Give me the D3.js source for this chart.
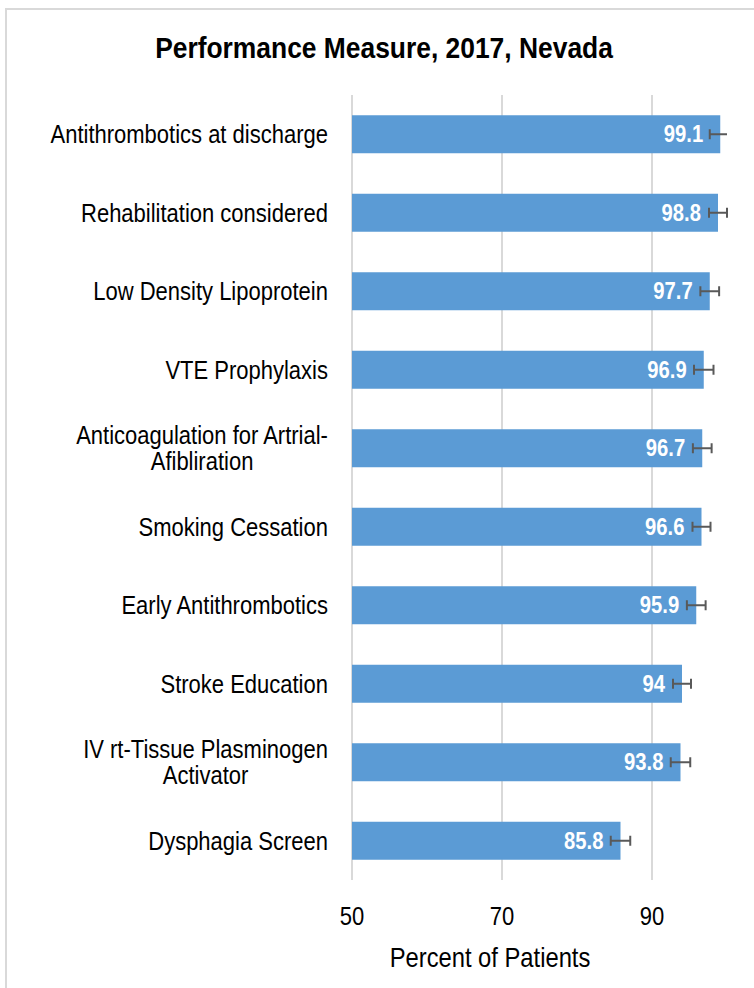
<!DOCTYPE html>
<html>
<head>
<meta charset="utf-8">
<script src="https://cdn.jsdelivr.net/npm/d3@7"></script>
<style>
  body { margin: 0; background: #fff; }
  text { font-family: "Liberation Sans", Arial, sans-serif; }
</style>
</head>
<body>
<svg width="754" height="988"></svg>
<script>
// data
var categories = [
  "Antithrombotics at discharge",
  "Rehabilitation considered",
  "Low Density Lipoprotein",
  "VTE Prophylaxis",
  "Anticoagulation for Artrial-\nAfibliration",
  "Smoking Cessation",
  "Early Antithrombotics",
  "Stroke Education",
  "IV rt-Tissue Plasminogen\nActivator",
  "Dysphagia Screen"
];
var values = [99.1, 98.8, 97.7, 96.9, 96.7, 96.6, 95.9, 94, 93.8, 85.8];
var errors = [1.4, 1.2, 1.25, 1.3, 1.25, 1.2, 1.25, 1.2, 1.3, 1.3];
var tickValues = [50, 70, 90];

var sx = 0.88; // the reference text is a condensed face, fake it
function place(x, y) { return "translate(" + x + "," + y + ") scale(" + sx + ",1)"; }

var svg = d3.select("svg");

// outer frame (runs off the right and bottom edge)
svg.append("rect")
    .attr("x", 6).attr("y", 9)
    .attr("width", 800).attr("height", 1000)
    .attr("fill", "#fff")
    .attr("stroke", "#d9d9d9")
    .attr("stroke-width", 2);

var x = d3.scaleLinear().domain([50, 100]).range([352, 727]);
var y = d3.scaleBand().domain(categories).range([95, 880])
    .paddingInner(0.516).paddingOuter(0.258);

svg.append("text")
    .attr("transform", place(384, 58))
    .attr("text-anchor", "middle")
    .style("font-size", "30px").style("font-weight", "bold")
    .text("Performance Measure, 2017, Nevada");

// gridlines
svg.append("g").selectAll("line")
  .data(tickValues)
  .join("line")
    .attr("x1", d => x(d)).attr("x2", d => x(d))
    .attr("y1", 95).attr("y2", 880)
    .attr("stroke", "#d9d9d9").attr("stroke-width", 2);

// tick labels
svg.append("g").selectAll("text")
  .data(tickValues)
  .join("text")
    .attr("transform", d => place(x(d), 925))
    .attr("text-anchor", "middle")
    .style("font-size", "25px")
    .text(d => d);

svg.append("text")
    .attr("transform", place(490, 967))
    .attr("text-anchor", "middle")
    .style("font-size", "27px")
    .text("Percent of Patients");

// bars
svg.append("g").selectAll("rect")
  .data(categories)
  .join("rect")
    .attr("x", x(50))
    .attr("y", d => y(d))
    .attr("width", (d, i) => x(values[i]) - x(50))
    .attr("height", y.bandwidth())
    .attr("fill", "#5b9bd5");

// category labels, multi-line ones centred on their widest line
var lab = svg.append("g").selectAll("text")
  .data(categories)
  .join("text")
    .style("font-size", "25px")
    .attr("fill", "#000")
    .attr("text-anchor", "middle");

lab.each(function(d) {
  var t = d3.select(this),
      lines = d.split("\n"),
      cy = y(d) + y.bandwidth() / 2,
      lh = 26,
      y0 = cy - (lines.length - 1) * lh / 2 + 9;
  lines.forEach(function(s, k) {
    t.append("tspan").attr("y", k * lh).text(s);
  });
  var w = d3.max(t.selectAll("tspan").nodes(), n => n.getComputedTextLength());
  t.attr("transform", place(328, y0))
   .selectAll("tspan").attr("x", -w / 2);
});

// value labels
svg.append("g").selectAll("text")
  .data(categories)
  .join("text")
    .attr("transform", (d, i) => place(x(values[i]) - 17, y(d) + y.bandwidth() / 2 + 8))
    .attr("text-anchor", "end")
    .attr("fill", "#fff")
    .style("font-size", "23px").style("font-weight", "bold")
    .text((d, i) => values[i]);

// error bars, clipped at 100
var eb = svg.append("g").attr("stroke", "#595959").attr("stroke-width", 2);
categories.forEach(function(c, i) {
  var cy = y(c) + y.bandwidth() / 2,
      lo = values[i] - errors[i],
      hi = Math.min(100, values[i] + errors[i]);
  eb.append("line").attr("x1", x(lo)).attr("x2", x(hi)).attr("y1", cy).attr("y2", cy);
  eb.append("line").attr("x1", x(lo)).attr("x2", x(lo)).attr("y1", cy - 5).attr("y2", cy + 5);
  if (values[i] + errors[i] <= 100)
    eb.append("line").attr("x1", x(hi)).attr("x2", x(hi)).attr("y1", cy - 5).attr("y2", cy + 5);
});
</script>
</body>
</html>
